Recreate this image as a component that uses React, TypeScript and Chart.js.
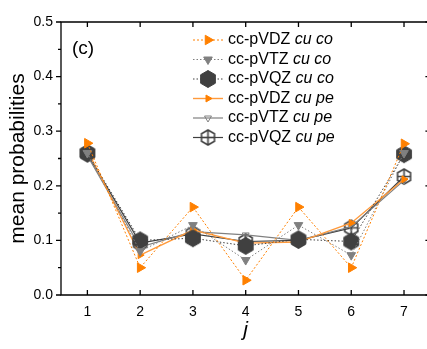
import React, { useEffect, useRef } from "react";
import { Chart, registerables } from "chart.js";
import { drawPoint } from "chart.js/helpers";

Chart.register(...registerables);

const jValues = [1, 2, 3, 4, 5, 6, 7];
const dzCo = [0.278, 0.05, 0.161, 0.027, 0.161, 0.05, 0.277];
const tzCo = [0.26, 0.08, 0.128, 0.064, 0.128, 0.073, 0.26];
const qzCo = [0.26, 0.1, 0.104, 0.09, 0.102, 0.098, 0.258];
const dzPe = [0.265, 0.073, 0.119, 0.095, 0.097, 0.132, 0.212];
const tzPe = [0.255, 0.088, 0.116, 0.11, 0.1, 0.125, 0.21];
const qzPe = [0.258, 0.095, 0.112, 0.098, 0.1, 0.123, 0.217];

const seriesBases = ["cc-pVDZ", "cc-pVTZ", "cc-pVQZ", "cc-pVDZ", "cc-pVTZ", "cc-pVQZ"];
const seriesTags = ["cu co", "cu co", "cu co", "cu pe", "cu pe", "cu pe"];

const xTickValues = [1, 2, 3, 4, 5, 6, 7];
const yTickValues = [0, 0.1, 0.2, 0.3, 0.4, 0.5];
const yMinorValues = [0.05, 0.15, 0.25, 0.35, 0.45];

const panelLabel = "(c)";
const xTitle = "j";
const yTitle = "mean probabilities";

const FONT = '"Liberation Sans", Arial, sans-serif';
const ORANGE = "#FF8000";
const ORANGE_LIGHT = "#FF9A3C";
const GRAY = "#808080";
const DARK = "#404040";

function makeHex(r: number, fill: string | null, stroke: string | null, lw: number, cross: boolean) {
  const size = Math.ceil(2 * r + lw + 2);
  const c = document.createElement("canvas");
  c.width = size;
  c.height = size;
  const ctx = c.getContext("2d")!;
  const cx = size / 2;
  const cy = size / 2;
  ctx.beginPath();
  for (let i = 0; i < 6; i++) {
    const a = (Math.PI / 3) * i - Math.PI / 2;
    const px = cx + r * Math.cos(a);
    const py = cy + r * Math.sin(a);
    if (i === 0) ctx.moveTo(px, py);
    else ctx.lineTo(px, py);
  }
  ctx.closePath();
  if (fill) {
    ctx.fillStyle = fill;
    ctx.fill();
  }
  if (stroke) {
    ctx.strokeStyle = stroke;
    ctx.lineWidth = lw;
    ctx.stroke();
  }
  if (cross && stroke) {
    ctx.beginPath();
    ctx.moveTo(cx, cy - r);
    ctx.lineTo(cx, cy + r);
    ctx.moveTo(cx - r * 0.866, cy);
    ctx.lineTo(cx + r * 0.866, cy);
    ctx.stroke();
  }
  return c;
}

const framePlugin = {
  id: "frame",
  beforeDatasetsDraw(chart: any) {
    const { ctx, chartArea } = chart;
    const { left, right, top, bottom } = chartArea;
    const xs = chart.scales.x;
    const ys = chart.scales.y;
    ctx.save();
    ctx.strokeStyle = "#000";
    ctx.lineWidth = 1.3;
    ctx.beginPath();
    ctx.rect(left, top, right - left, bottom - top);
    ctx.stroke();
    ctx.beginPath();
    for (const v of xTickValues) {
      const px = xs.getPixelForValue(v);
      ctx.moveTo(px, bottom);
      ctx.lineTo(px, bottom - 5);
      ctx.moveTo(px, top);
      ctx.lineTo(px, top + 5);
    }
    for (const v of yTickValues) {
      const py = ys.getPixelForValue(v);
      ctx.moveTo(left, py);
      ctx.lineTo(left - 5, py);
      ctx.moveTo(right, py);
      ctx.lineTo(right - 5, py);
    }
    for (const v of yMinorValues) {
      const py = ys.getPixelForValue(v);
      ctx.moveTo(left, py);
      ctx.lineTo(left - 3, py);
      ctx.moveTo(right, py);
      ctx.lineTo(right - 3, py);
    }
    ctx.stroke();
    ctx.fillStyle = "#000";
    ctx.font = `19px ${FONT}`;
    ctx.textBaseline = "middle";
    ctx.textAlign = "left";
    ctx.fillText(panelLabel, left + 11, top + 27);
    ctx.restore();
  },
};

const legendPlugin = {
  id: "customLegend",
  afterDatasetsDraw(chart: any) {
    const { ctx } = chart;
    const x0 = 193;
    const x1 = 223;
    const y0 = 40;
    const dy = 19.5;
    ctx.save();
    chart.data.datasets.forEach((ds: any, i: number) => {
      const y = y0 + i * dy;
      ctx.save();
      ctx.strokeStyle = ds.borderColor;
      ctx.lineWidth = ds.borderWidth;
      ctx.setLineDash(ds.borderDash || []);
      ctx.beginPath();
      ctx.moveTo(x0, y);
      ctx.lineTo(x1, y);
      ctx.stroke();
      ctx.restore();
      ctx.save();
      ctx.fillStyle = ds.pointBackgroundColor;
      ctx.strokeStyle = ds.pointBorderColor;
      ctx.lineWidth = ds.pointBorderWidth;
      drawPoint(
        ctx,
        {
          pointStyle: ds.pointStyle,
          rotation: ds.pointRotation || 0,
          radius: ds.pointRadius,
          borderWidth: ds.pointBorderWidth,
        } as any,
        (x0 + x1) / 2,
        y
      );
      ctx.restore();
      ctx.fillStyle = "#000";
      ctx.textBaseline = "middle";
      ctx.textAlign = "left";
      ctx.font = `16px ${FONT}`;
      const base = seriesBases[i] + " ";
      ctx.fillText(base, 228, y);
      const w = ctx.measureText(base).width;
      ctx.font = `italic 16px ${FONT}`;
      ctx.fillText(seriesTags[i], 228 + w, y);
    });
    ctx.restore();
  },
};

export default function App() {
  const canvasRef = useRef<HTMLCanvasElement | null>(null);

  useEffect(() => {
    const canvas = canvasRef.current;
    if (!canvas) return;
    const hexFilled = makeHex(8.5, DARK, DARK, 1, false);
    const hexCross = makeHex(7.5, null, DARK, 1.6, true);
    const toPts = (arr: number[]) => arr.map((v, i) => ({ x: jValues[i], y: v }));

    const chart = new Chart(canvas, {
      type: "line",
      data: {
        datasets: [
          {
            data: toPts(dzCo),
            borderColor: ORANGE,
            borderWidth: 1,
            borderDash: [2, 2],
            pointStyle: "triangle",
            pointRotation: 90,
            pointRadius: 5.5,
            pointBackgroundColor: ORANGE,
            pointBorderColor: ORANGE,
            pointBorderWidth: 1,
          },
          {
            data: toPts(tzCo),
            borderColor: GRAY,
            borderWidth: 1,
            borderDash: [1.5, 2],
            pointStyle: "triangle",
            pointRotation: 180,
            pointRadius: 5,
            pointBackgroundColor: GRAY,
            pointBorderColor: GRAY,
            pointBorderWidth: 1,
          },
          {
            data: toPts(qzCo),
            borderColor: DARK,
            borderWidth: 1,
            borderDash: [1.5, 2],
            pointStyle: hexFilled,
            pointRadius: 8,
            pointBackgroundColor: DARK,
            pointBorderColor: DARK,
            pointBorderWidth: 1,
          },
          {
            data: toPts(dzPe),
            borderColor: ORANGE_LIGHT,
            borderWidth: 1.4,
            pointStyle: "triangle",
            pointRotation: 90,
            pointRadius: 4,
            pointBackgroundColor: ORANGE,
            pointBorderColor: ORANGE,
            pointBorderWidth: 1,
          },
          {
            data: toPts(tzPe),
            borderColor: GRAY,
            borderWidth: 1.2,
            pointStyle: "triangle",
            pointRotation: 180,
            pointRadius: 4,
            pointBackgroundColor: "rgba(255,255,255,0)",
            pointBorderColor: GRAY,
            pointBorderWidth: 1,
          },
          {
            data: toPts(qzPe),
            borderColor: DARK,
            borderWidth: 1.2,
            pointStyle: hexCross,
            pointRadius: 8,
            pointBackgroundColor: "rgba(255,255,255,0)",
            pointBorderColor: DARK,
            pointBorderWidth: 1.6,
          },
        ] as any,
      },
      options: {
        responsive: false,
        animation: false,
        layout: { padding: { left: 0, top: 22, right: 9, bottom: 0 } },
        plugins: {
          legend: { display: false },
          tooltip: { enabled: false },
        },
        elements: { line: { tension: 0 } },
        scales: {
          x: {
            type: "linear",
            min: 0.5,
            max: 7.5,
            afterBuildTicks: (s: any) => {
              s.ticks = xTickValues.map((value) => ({ value }));
            },
            afterFit: (s: any) => {
              s.height = 54;
            },
            grid: { display: false, drawTicks: false },
            border: { display: false },
            ticks: {
              padding: 9,
              color: "#000",
              font: { family: FONT, size: 14 },
              callback: (v: any) => String(v),
            },
            title: {
              display: true,
              text: xTitle,
              color: "#000",
              font: { family: FONT, size: 21, style: "italic" },
              padding: { top: 0, bottom: 6 },
            },
          },
          y: {
            type: "linear",
            min: 0,
            max: 0.5,
            afterBuildTicks: (s: any) => {
              s.ticks = yTickValues.map((value) => ({ value }));
            },
            afterFit: (s: any) => {
              s.width = 61;
            },
            grid: { display: false, drawTicks: false },
            border: { display: false },
            ticks: {
              padding: 8,
              color: "#000",
              font: { family: FONT, size: 14 },
              callback: (v: any) => Number(v).toFixed(1),
            },
            title: {
              display: true,
              text: yTitle,
              color: "#000",
              font: { family: FONT, size: 21 },
              padding: { top: 6, bottom: 0 },
            },
          },
        },
      } as any,
      plugins: [framePlugin, legendPlugin],
    });
    return () => chart.destroy();
  }, []);

  return (
    <div
      style={{
        position: "fixed",
        left: 0,
        top: 0,
        width: 427,
        height: 349,
        overflow: "hidden",
        background: "#fff",
      }}
    >
      <canvas ref={canvasRef} width={440} height={349} style={{ display: "block", width: 440, height: 349 }} />
    </div>
  );
}
